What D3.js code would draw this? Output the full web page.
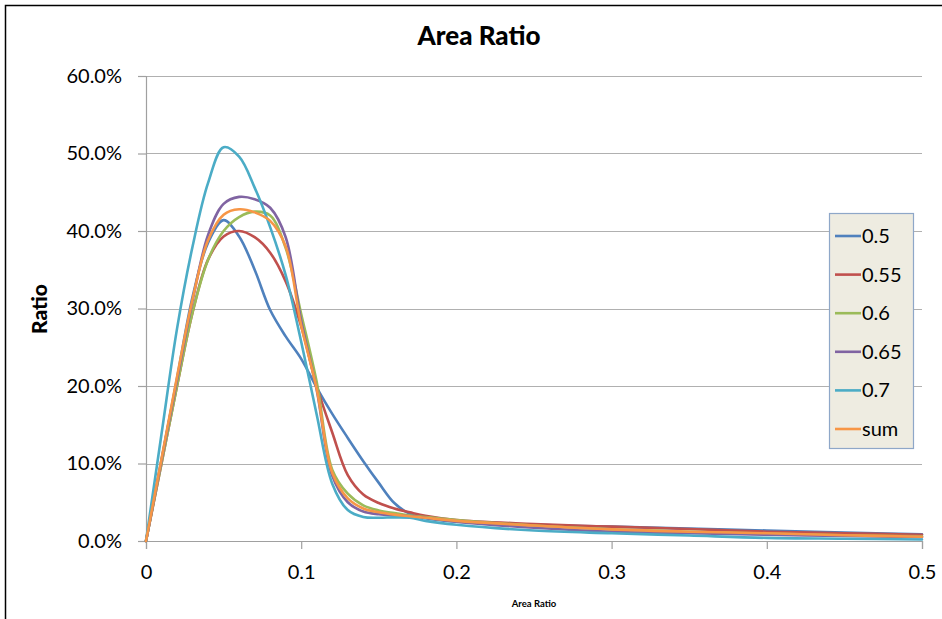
<!DOCTYPE html>
<html><head><meta charset="utf-8">
<script src="https://cdn.jsdelivr.net/npm/d3@7"></script>
<style>
html,body{margin:0;padding:0;background:#fff;}
svg{display:block;font-family:Lato,"Open Sans",Arial,sans-serif;}
</style></head>
<body><svg id="chart" width="942" height="619"></svg>
<script>
const chartTitle = "Area Ratio";
const xTitle = "Area Ratio";
const yTitle = "Ratio";
const xValues = [0,0.01,0.02,0.03,0.04,0.05,0.06,0.07,0.08,0.09,0.10,0.11,0.12,0.13,0.14,0.15,0.16,0.17,0.18,0.20,0.25,0.30,0.35,0.40,0.45,0.50];
const s05  = [0,10.5,21,31.5,38.5,41.4,39.3,35,29.8,26.4,23.5,19.8,16.4,13.3,10.3,7.5,4.9,3.5,2.95,2.5,2.1,1.85,1.6,1.35,1.1,0.85];
const s055 = [0,10,20,29.5,36.3,39.3,40,39.2,37.2,33.5,27.7,20,14,8.5,6.0,4.9,4.2,3.7,3.25,2.7,2.2,1.85,1.55,1.2,1.0,0.8];
const s06  = [0,10,20,29.5,36.3,40,41.8,42.5,42.0,37.8,29.3,20.5,9.2,6.1,4.6,3.95,3.6,3.3,3.1,2.7,2.0,1.5,1.2,0.95,0.75,0.6];
const s065 = [0,10.4,20.8,31,39.5,43.5,44.4,44.1,43.0,39.2,28.4,19.5,8.4,5.0,3.8,3.45,3.3,3.2,3.0,2.5,1.7,1.2,1.0,0.8,0.65,0.5];
const s07  = [0,13.8,27.4,38,46.2,50.8,49.6,45.6,40.5,34.3,25.7,16.3,7.4,4.0,3.1,3.0,3.05,3.0,2.6,2.1,1.35,1.0,0.7,0.4,0.3,0.2];
const sSum = [0,10.6,21.2,31.2,38.8,42.1,42.8,42.4,41.3,38,27.8,19.6,8.8,5.5,4.2,3.7,3.4,3.2,3.0,2.6,2.0,1.5,1.2,1.0,0.75,0.55];
const seriesNames = ["0.5","0.55","0.6","0.65","0.7","sum"];
const seriesColors = ["#4F81BD","#C0504D","#9BBB59","#8064A2","#4BACC6","#F79646"];
const yTicks = [0,10,20,30,40,50,60];
const xTicks = [0,0.1,0.2,0.3,0.4,0.5];

const seriesData = [s05,s055,s06,s065,s07,sSum];

const svg = d3.select("#chart");
// outer border
svg.append("rect").attr("x",5.5).attr("y",5.5).attr("width",960).attr("height",640)
  .attr("fill","none").attr("stroke","#000").attr("stroke-width",1.5);

const x = d3.scaleLinear().domain([0,0.5]).range([146,922]);
const y = d3.scaleLinear().domain([0,60]).range([541,76]);

// gridlines
svg.append("g").selectAll("line").data(yTicks.filter(d=>d>0)).join("line")
  .attr("x1",x(0)).attr("x2",x(0.5)).attr("y1",d=>Math.round(y(d))+0.5).attr("y2",d=>Math.round(y(d))+0.5)
  .attr("stroke","#b0b0b0").attr("stroke-width",1.2);

// y axis
const yAxis = d3.axisLeft(y).tickValues(yTicks).tickSize(8).tickPadding(16)
  .tickFormat(d=>d.toFixed(1)+"%");
const gy = svg.append("g").attr("transform",`translate(${x(0)},0)`).call(yAxis);
gy.select(".domain").attr("stroke","#a0a0a0").attr("stroke-width",1.2);
gy.selectAll(".tick line").attr("stroke","#a0a0a0").attr("stroke-width",1.2);
gy.selectAll(".tick text").attr("font-size",20).attr("font-family","Lato,Arial,sans-serif").attr("fill","#000");

// x axis
const xAxis = d3.axisBottom(x).tickValues(xTicks).tickSize(8).tickPadding(16)
  .tickFormat(d=>d===0?"0":d3.format(".1f")(d));
const gx = svg.append("g").attr("transform",`translate(0,${y(0)})`).call(xAxis);
gx.select(".domain").attr("stroke","#a0a0a0").attr("stroke-width",1.2);
gx.selectAll(".tick line").attr("stroke","#a0a0a0").attr("stroke-width",1.2);
gx.selectAll(".tick text").attr("font-size",20).attr("font-family","Lato,Arial,sans-serif").attr("fill","#000");

// lines
const line = d3.line().x((d,i)=>x(xValues[i])).y(d=>y(d)).curve(d3.curveCatmullRom.alpha(0.5));
svg.append("g").selectAll("path").data(seriesData).join("path")
  .attr("d",d=>line(d)).attr("fill","none")
  .attr("stroke",(d,i)=>seriesColors[i]).attr("stroke-width",2.6)
  .attr("stroke-linejoin","round").attr("stroke-linecap","round");

// title
svg.append("text").attr("x",479).attr("y",45).attr("text-anchor","middle")
  .attr("font-size",26).attr("font-weight","900").text(chartTitle);
svg.append("text").attr("x",534).attr("y",607).attr("text-anchor","middle")
  .attr("font-size",9.5).attr("font-weight","bold").text(xTitle);
svg.append("text").attr("transform","translate(47,309) rotate(-90)").attr("text-anchor","middle")
  .attr("font-size",21).attr("font-weight","900").text(yTitle);

// legend
const lg = svg.append("g");
lg.append("rect").attr("x",829.5).attr("y",213.5).attr("width",84).attr("height",235)
  .attr("fill","#EEECE1").attr("stroke","#8EA7C8").attr("stroke-width",1.2);
const rows = lg.selectAll("g.row").data(seriesNames).join("g").attr("class","row")
  .attr("transform",(d,i)=>`translate(835,${236+i*38.6})`);
rows.append("line").attr("x1",0).attr("x2",26).attr("y1",0).attr("y2",0)
  .attr("stroke",(d,i)=>seriesColors[i]).attr("stroke-width",2.6);
rows.append("text").attr("x",27).attr("y",7).attr("font-size",20).text(d=>d);
</script></body></html>
